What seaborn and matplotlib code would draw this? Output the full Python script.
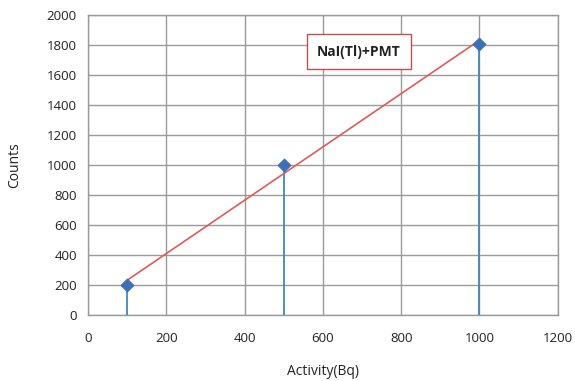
import numpy as np
import pandas as pd
import seaborn as sns
import matplotlib
matplotlib.use("Agg")
import matplotlib.pyplot as plt

activity = [100, 500, 1000]
counts = [200, 1000, 1805]
label = "NaI(Tl)+PMT"
xticks = [0, 200, 400, 600, 800, 1000, 1200]
yticks = list(range(0, 2001, 200))

sns.set_theme(style="white")
plt.rcParams['font.family'] = ['Open Sans', 'DejaVu Sans']

df = pd.DataFrame({"Activity(Bq)": activity, "Counts": counts})

fig = plt.figure(figsize=(5.75, 3.81), dpi=100)
ax = fig.add_axes([0.153, 0.173, 0.817, 0.788])

ax.vlines(df["Activity(Bq)"], 0, df["Counts"], color="#3f8ab5", lw=1.3, zorder=3)
sns.regplot(data=df, x="Activity(Bq)", y="Counts", ci=None, ax=ax,
            scatter=False, truncate=True,
            line_kws=dict(color="#e05a5a", lw=1.2, zorder=4))
sns.scatterplot(data=df, x="Activity(Bq)", y="Counts", ax=ax, marker="D",
                s=45, color="#3d6fb6", edgecolor="#3d6fb6", zorder=5)

ax.set_xlim(0, 1200)
ax.set_ylim(0, 2000)
ax.set_xticks(xticks)
ax.set_yticks(yticks)
ax.grid(True, color="#9a9a9a", lw=1.0)
ax.set_axisbelow(True)
for s in ax.spines.values():
    s.set_color("#9a9a9a")
    s.set_linewidth(1.0)
ax.tick_params(axis="both", length=0, labelsize=9.5, colors="#222222")
ax.tick_params(axis="x", pad=12)
ax.tick_params(axis="y", pad=8)
ax.set_xlabel("Activity(Bq)", fontsize=10, color="#222222", labelpad=14)
ax.set_ylabel("Counts", fontsize=10, color="#222222", labelpad=18)

ax.text(0.577, 0.877, label, transform=ax.transAxes, ha="center", va="center",
        fontsize=10, fontweight="bold", color="#222222",
        bbox=dict(boxstyle="square,pad=0.75", fc="white", ec="#c0504d", lw=1.0))

fig.savefig("out.png", dpi=100)
